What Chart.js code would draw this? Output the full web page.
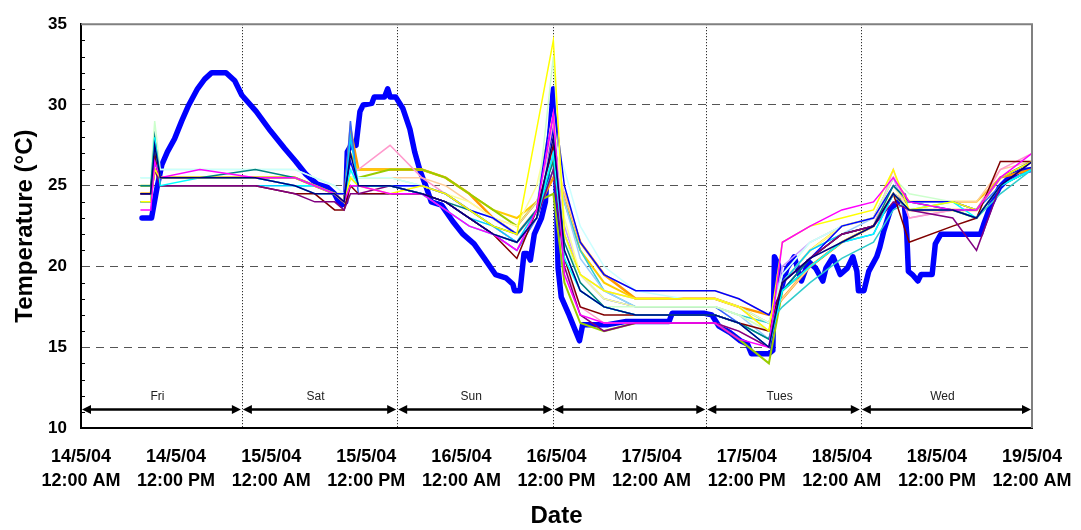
<!DOCTYPE html>
<html>
<head>
<meta charset="utf-8">
<script src="https://cdn.jsdelivr.net/npm/chart.js@4.4.1/dist/chart.umd.min.js"></script>
<style>
  body { margin: 0; background: #fff; }
</style>
</head>
<body>
<canvas id="myChart" width="1081" height="530"></canvas>
<script>

// x axis runs in hours from 14/5/04 12:00 AM
const xTickHours = [0, 12, 24, 36, 48, 60, 72, 84, 96, 108, 120];
const xTickDates = ['14/5/04', '14/5/04', '15/5/04', '15/5/04', '16/5/04', '16/5/04',
                    '17/5/04', '17/5/04', '18/5/04', '18/5/04', '19/5/04'];
const xTickTimes = ['12:00 AM', '12:00 PM', '12:00 AM', '12:00 PM', '12:00 AM', '12:00 PM',
                    '12:00 AM', '12:00 PM', '12:00 AM', '12:00 PM', '12:00 AM'];

const dayNames = ['Fri', 'Sat', 'Sun', 'Mon', 'Tues', 'Wed'];
const dayEdges = [0, 20.3, 39.9, 59.6, 78.9, 98.4, 120];

// the heavy blue trace
const thickHours = [7.7, 8.9, 9.6, 10.2, 10.9, 11.8, 12.7, 13.6, 14.7, 15.6, 16.5, 18.3, 19.4, 20.3,
  22.1, 23.9, 25.7, 27.1, 28.4, 29.8, 31.1, 32.0, 32.5, 32.9, 33.4, 33.6, 34.3, 34.7, 35.2, 35.6,
  36.7, 37.0, 38.3, 38.7, 39.0, 39.7, 40.6, 41.5, 42.1, 42.8, 43.5, 44.2, 45.5, 46.9, 48.2, 49.6,
  50.9, 52.3, 53.6, 54.5, 54.7, 55.4, 55.9, 56.3, 56.7, 57.2, 58.1, 58.6, 59.0, 59.6, 60.0, 60.2,
  60.6, 61.5, 62.4, 62.9, 63.3, 66.5, 68.8, 74.2, 74.6, 78.7, 79.6, 80.5, 81.9, 83.2, 84.1, 84.6,
  86.8, 87.3, 87.5, 88.0, 88.4, 89.1, 90.0, 90.9, 91.8, 92.7, 93.6, 94.0, 94.9, 95.8, 96.7, 97.4,
  97.9, 98.1, 98.8, 99.4, 100.4, 100.8, 101.3, 102.2, 103.1, 103.8, 104.2, 104.4, 104.9, 105.6,
  106.0, 107.4, 107.8, 108.5, 113.5, 113.9, 114.8, 115.9, 117.1, 118.4, 120.0];
const thickTemps = [23.0, 23.0, 24.9, 26.3, 27.1, 27.9, 29.0, 30.0, 31.0, 31.6, 32.0, 32.0, 31.5, 30.6,
  29.6, 28.4, 27.3, 26.5, 25.7, 25.1, 24.9, 24.5, 24.0, 23.8, 24.0, 27.1, 27.7, 27.5, 29.6, 30.0,
  30.1, 30.5, 30.5, 31.0, 30.5, 30.5, 29.8, 28.5, 27.1, 25.9, 25.0, 24.0, 23.8, 22.8, 22.0, 21.4,
  20.5, 19.5, 19.3, 18.9, 18.5, 18.5, 20.8, 20.8, 20.4, 22.0, 23.0, 24.0, 27.1, 31.0, 24.0, 19.9,
  18.1, 17.1, 16.0, 15.4, 16.4, 16.4, 16.6, 16.6, 17.1, 17.1, 17.0, 16.3, 15.9, 15.4, 15.2, 14.6,
  14.6, 14.8, 20.6, 20.1, 18.7, 19.9, 20.6, 19.1, 20.3, 19.9, 19.1, 19.9, 20.6, 19.5, 19.9, 20.6,
  19.7, 18.5, 18.5, 19.7, 20.6, 21.2, 22.2, 23.6, 24.0, 24.4, 22.0, 19.7, 19.5, 19.1,
  19.5, 19.5, 21.4, 22.0, 22.0, 22.6, 23.8, 24.9, 25.5, 25.9, 26.0];

// shared reading times for the thin traces
const thinHours = [7.5, 8.8, 9.3, 10.0, 15, 22, 27, 29.5, 32, 33.2, 34.0, 35.0, 39, 43, 46, 49, 52, 55,
  57.5, 59.6, 61, 63, 66, 70, 76, 80, 83, 86.8, 88.5, 92, 96, 100, 102.5, 104.5, 110, 113, 116, 120];

const navyTemps = [24.5, 24.5, 27.5, 25.5, 25.5, 25.5, 25.0, 24.5, 24.5, 24.0, 27.0, 25.0, 25.0, 24.5, 24.0, 23.0, 22.0, 21.5, 23.0, 28.0, 21.0, 18.5, 17.5, 17.0, 17.0, 17.0, 16.5, 15.0, 19.0, 20.5, 21.5, 22.5, 24.5, 23.5, 23.5, 23.0, 25.0, 26.5];
const magentaTemps = [23.5, 23.5, 26.5, 25.5, 26.0, 25.5, 25.5, 25.0, 24.5, 24.0, 25.0, 25.0, 24.5, 24.5, 23.5, 22.5, 22.0, 21.0, 23.5, 29.5, 19.5, 17.0, 16.5, 16.5, 16.5, 16.5, 15.5, 15.0, 21.5, 22.5, 23.5, 24.0, 25.5, 24.0, 23.5, 23.5, 25.5, 27.0];
const yellowTemps = [24.0, 24.0, 26.0, 25.5, 25.5, 25.5, 25.5, 25.0, 24.5, 24.0, 25.5, 25.0, 24.5, 25.0, 24.5, 23.5, 22.5, 22.0, 28.5, 34.0, 22.0, 19.5, 18.5, 18.0, 18.0, 18.0, 17.5, 16.0, 21.5, 22.5, 23.0, 23.5, 26.0, 23.5, 24.0, 23.5, 25.5, 26.5];
const cyanTemps = [24.0, 24.0, 28.0, 25.0, 25.5, 25.5, 25.0, 25.0, 24.5, 24.0, 26.0, 25.0, 25.0, 24.5, 23.5, 22.5, 22.0, 21.5, 23.0, 27.0, 20.5, 18.5, 17.5, 17.0, 17.0, 17.0, 16.5, 15.0, 18.5, 20.0, 21.5, 22.0, 24.5, 23.5, 24.0, 23.0, 25.0, 26.0];
const purpleTemps = [24.0, 24.0, 26.0, 25.0, 25.0, 25.0, 24.5, 24.0, 24.0, 23.5, 24.5, 24.5, 25.0, 24.5, 24.0, 23.0, 22.0, 21.5, 23.0, 26.0, 20.0, 17.0, 16.0, 16.5, 16.5, 16.5, 16.0, 15.0, 19.0, 20.5, 22.0, 22.5, 24.0, 23.5, 23.0, 21.0, 25.0, 26.5];
const maroonTemps = [24.5, 24.5, 27.0, 25.0, 25.0, 25.0, 24.5, 24.5, 23.5, 23.5, 25.0, 24.5, 24.5, 24.5, 24.0, 23.0, 22.0, 20.5, 23.5, 27.5, 20.5, 17.5, 17.0, 17.0, 17.0, 17.0, 16.5, 16.0, 19.0, 20.5, 22.0, 22.5, 24.5, 21.5, 22.5, 23.0, 26.5, 26.5];
const tealTemps = [25.0, 25.0, 28.0, 25.5, 25.5, 26.0, 25.5, 25.0, 24.5, 24.0, 25.0, 25.0, 25.0, 24.5, 24.0, 23.5, 22.5, 22.0, 23.5, 26.5, 21.5, 19.0, 17.5, 17.0, 17.0, 17.0, 16.5, 15.5, 18.5, 20.5, 22.0, 22.5, 25.0, 24.0, 23.5, 23.5, 25.5, 26.5];
const blueTemps = [24.5, 24.5, 26.5, 25.5, 25.5, 25.5, 25.5, 25.0, 24.5, 24.5, 26.5, 25.0, 25.0, 25.0, 24.5, 23.5, 23.0, 22.0, 23.5, 30.5, 25.0, 21.5, 19.5, 18.5, 18.5, 18.5, 18.0, 17.0, 18.5, 20.5, 22.5, 23.0, 25.0, 24.0, 24.0, 23.5, 25.5, 26.5];
const skyTemps = [24.0, 24.0, 27.5, 25.0, 25.0, 25.0, 25.0, 24.5, 24.5, 24.0, 28.0, 25.0, 25.0, 24.5, 24.0, 23.0, 22.5, 21.5, 23.5, 26.0, 21.0, 18.5, 17.5, 17.0, 17.0, 17.0, 16.5, 15.5, 19.0, 21.0, 22.0, 22.5, 24.5, 23.5, 23.5, 23.0, 25.0, 26.0];
const paleCyanTemps = [25.5, 25.5, 27.0, 26.0, 26.0, 26.0, 26.0, 25.5, 25.0, 24.5, 26.0, 25.5, 25.5, 25.0, 24.5, 23.5, 23.0, 22.0, 23.5, 28.0, 26.0, 22.5, 20.0, 18.5, 18.0, 18.0, 17.5, 16.5, 19.5, 21.5, 22.5, 23.0, 25.0, 24.0, 24.0, 23.5, 25.5, 26.5];
const paleGreenTemps = [25.5, 25.5, 29.0, 26.0, 26.0, 26.0, 26.0, 25.5, 25.0, 24.5, 25.5, 25.5, 25.5, 25.0, 24.5, 23.5, 23.0, 22.0, 23.5, 33.0, 22.0, 19.0, 17.5, 17.5, 17.5, 17.5, 17.0, 16.0, 19.5, 21.5, 22.5, 23.0, 25.5, 24.5, 24.0, 23.5, 25.5, 26.5];
const paleYellowTemps = [24.5, 24.5, 26.0, 25.5, 25.5, 25.5, 25.5, 25.0, 24.5, 24.0, 25.5, 25.5, 25.5, 25.0, 24.5, 24.0, 23.0, 22.5, 25.0, 29.5, 23.0, 19.5, 18.0, 17.5, 17.5, 17.5, 17.0, 16.0, 19.0, 21.0, 22.5, 23.0, 25.0, 23.5, 23.5, 23.5, 25.5, 26.5];
const paleBlueTemps = [24.5, 24.5, 27.0, 25.5, 25.5, 25.5, 25.5, 25.0, 24.5, 24.0, 25.5, 25.0, 25.0, 25.0, 24.5, 23.5, 22.5, 22.0, 23.5, 27.0, 24.0, 20.5, 18.5, 17.5, 17.5, 17.5, 17.0, 15.5, 19.0, 21.0, 22.0, 23.0, 25.0, 24.0, 24.0, 23.5, 25.5, 26.5];
const roseTemps = [24.0, 24.0, 26.5, 25.5, 25.5, 25.5, 25.5, 25.0, 24.5, 24.0, 26.0, 26.0, 27.5, 25.5, 24.5, 23.5, 22.5, 21.5, 23.0, 29.0, 20.0, 17.5, 16.5, 16.5, 16.5, 16.5, 16.0, 15.0, 19.0, 20.5, 22.0, 22.5, 26.0, 23.0, 23.5, 23.5, 26.0, 27.0];
const lavenderTemps = [24.5, 24.5, 26.0, 25.5, 25.5, 25.5, 25.5, 25.0, 24.5, 24.5, 25.5, 25.0, 25.0, 25.0, 24.5, 23.5, 22.5, 21.5, 23.0, 28.0, 22.5, 19.5, 18.5, 18.0, 18.0, 18.0, 17.5, 16.0, 20.0, 21.5, 22.5, 23.0, 25.5, 23.0, 23.5, 23.5, 25.5, 26.5];
const tanTemps = [24.5, 24.5, 26.5, 25.5, 25.5, 25.5, 25.5, 25.0, 24.5, 24.5, 26.0, 25.5, 25.5, 25.5, 25.0, 24.0, 23.0, 22.5, 24.0, 27.5, 24.5, 21.5, 19.5, 18.5, 18.5, 18.5, 18.0, 17.0, 18.0, 20.0, 21.5, 22.5, 24.5, 24.0, 24.0, 24.0, 26.0, 26.5];
const royalTemps = [24.5, 24.5, 27.0, 25.5, 25.5, 25.5, 25.0, 25.0, 24.5, 24.0, 29.0, 24.5, 24.5, 24.5, 24.0, 23.0, 22.0, 21.0, 23.0, 27.0, 22.0, 19.5, 18.0, 17.5, 17.5, 17.5, 16.5, 15.0, 18.5, 20.0, 21.5, 22.0, 24.5, 24.0, 24.0, 23.5, 25.0, 26.0];
const aquaTemps = [24.5, 24.5, 26.5, 25.5, 25.5, 25.5, 25.5, 25.0, 24.5, 24.0, 25.0, 25.0, 25.0, 25.0, 24.5, 23.5, 22.5, 21.5, 23.0, 26.0, 24.0, 21.0, 18.5, 17.5, 17.5, 17.5, 17.0, 16.5, 17.5, 19.0, 20.5, 21.5, 23.5, 24.0, 23.5, 23.0, 24.5, 26.0];
const limeTemps = [25.0, 25.0, 26.5, 25.5, 25.5, 25.5, 25.5, 25.0, 24.5, 24.5, 25.5, 25.5, 26.0, 26.0, 25.5, 24.5, 23.5, 22.5, 24.0, 24.5, 19.0, 16.5, 16.0, 16.5, 16.5, 16.5, 15.5, 14.0, 18.5, 20.0, 21.5, 22.5, 24.5, 23.5, 23.5, 23.0, 25.0, 26.0];
const goldTemps = [24.5, 24.5, 26.0, 25.5, 25.5, 25.5, 25.5, 25.0, 24.5, 24.0, 27.0, 26.0, 26.0, 26.0, 25.5, 24.5, 23.5, 23.0, 24.0, 26.5, 24.0, 21.0, 19.0, 18.0, 18.0, 18.0, 17.5, 16.5, 19.0, 21.0, 22.5, 23.0, 25.5, 24.0, 24.0, 24.0, 25.5, 26.5];
const orangeTemps = [24.5, 24.5, 26.0, 25.5, 25.5, 25.5, 25.5, 25.0, 24.5, 24.0, 28.5, 26.0, 26.0, 26.0, 25.5, 24.5, 23.0, 22.0, 23.5, 25.5, 24.5, 21.5, 19.5, 18.0, 18.0, 18.0, 17.5, 17.0, 18.0, 20.0, 21.5, 22.5, 24.5, 23.5, 23.5, 23.5, 25.5, 26.0];

const thinSeries = [
  [navyTemps, '#000080', 1.5],
  [magentaTemps, '#FF00FF', 1.5],
  [yellowTemps, '#FFFF00', 1.5],
  [cyanTemps, '#00FFFF', 1.5],
  [purpleTemps, '#800080', 1.5],
  [maroonTemps, '#800000', 1.5],
  [tealTemps, '#008080', 1.5],
  [blueTemps, '#0000FF', 1.5],
  [skyTemps, '#00CCFF', 1.5],
  [paleCyanTemps, '#CCFFFF', 1.5],
  [paleGreenTemps, '#CCFFCC', 1.5],
  [paleYellowTemps, '#FFFF99', 1.5],
  [paleBlueTemps, '#99CCFF', 1.5],
  [roseTemps, '#FF99CC', 1.5],
  [lavenderTemps, '#CC99FF', 1.5],
  [tanTemps, '#FFCC99', 1.5],
  [royalTemps, '#3366FF', 1.5],
  [aquaTemps, '#33CCCC', 1.5],
  [limeTemps, '#99CC00', 2],
  [goldTemps, '#FFCC00', 2],
  [orangeTemps, '#FF9900', 2.5]
];

const FONT = 'Arial, "Liberation Sans", Helvetica, sans-serif';

const datasets = thinSeries.map(([temps, color, width]) => ({
  data: temps.map((t, i) => ({ x: thinHours[i], y: t })),
  borderColor: color,
  borderWidth: width
}));
datasets.push({
  data: thickTemps.map((t, i) => ({ x: thickHours[i], y: t })),
  borderColor: '#0000FF',
  borderWidth: 5.5,
  borderJoinStyle: 'round',
  borderCapStyle: 'round'
});

// dotted day dividers, day arrows, minor y ticks and the grey frame
const chartDecor = {
  id: 'chartDecor',
  beforeDatasetsDraw(chart) {
    const { ctx, chartArea: { top, bottom }, scales: { x, y } } = chart;
    ctx.save();
    ctx.strokeStyle = '#000';
    ctx.lineWidth = 1;
    ctx.setLineDash([1, 2]);
    for (let i = 1; i < dayEdges.length - 1; i++) {
      const px = Math.round(x.getPixelForValue(dayEdges[i])) + 0.5;
      ctx.beginPath();
      ctx.moveTo(px, top);
      ctx.lineTo(px, bottom);
      ctx.stroke();
    }
    ctx.setLineDash([]);

    const ay = y.getPixelForValue(11.15);
    const ly = y.getPixelForValue(11.95);
    ctx.lineWidth = 2.5;
    ctx.fillStyle = '#000';
    for (let i = 0; i < dayNames.length; i++) {
      const x0 = x.getPixelForValue(dayEdges[i]) + 1;
      const x1 = x.getPixelForValue(dayEdges[i + 1]) - 1;
      ctx.beginPath();
      ctx.moveTo(x0 + 5, ay);
      ctx.lineTo(x1 - 5, ay);
      ctx.stroke();
      ctx.beginPath();
      ctx.moveTo(x0, ay);
      ctx.lineTo(x0 + 9, ay - 4.5);
      ctx.lineTo(x0 + 9, ay + 4.5);
      ctx.closePath();
      ctx.fill();
      ctx.beginPath();
      ctx.moveTo(x1, ay);
      ctx.lineTo(x1 - 9, ay - 4.5);
      ctx.lineTo(x1 - 9, ay + 4.5);
      ctx.closePath();
      ctx.fill();

      ctx.font = '12px ' + FONT;
      ctx.fillStyle = '#222';
      ctx.textAlign = 'center';
      ctx.textBaseline = 'middle';
      ctx.fillText(dayNames[i], (x0 + x1) / 2 - 4, ly);
      ctx.fillStyle = '#000';
    }
    ctx.restore();
  },
  afterDraw(chart) {
    const { ctx, chartArea: { left, right, top, bottom }, scales: { y } } = chart;
    ctx.save();
    ctx.strokeStyle = '#000';
    ctx.lineWidth = 1;
    for (let v = 11; v < 35; v++) {
      if (v % 5 === 0) continue;
      const py = Math.round(y.getPixelForValue(v)) + 0.5;
      ctx.beginPath();
      ctx.moveTo(left, py);
      ctx.lineTo(left + 4, py);
      ctx.stroke();
    }
    ctx.strokeStyle = '#808080';
    ctx.lineWidth = 2;
    ctx.beginPath();
    ctx.moveTo(left, top);
    ctx.lineTo(right, top);
    ctx.lineTo(right, bottom);
    ctx.stroke();
    ctx.restore();
  }
};

new Chart(document.getElementById('myChart'), {
  type: 'line',
  data: { datasets },
  options: {
    responsive: false,
    animation: false,
    events: [],
    layout: { padding: { left: 0, right: 49, top: 22, bottom: 0 } },
    elements: {
      point: { radius: 0 },
      line: { tension: 0, fill: false }
    },
    plugins: {
      legend: { display: false },
      tooltip: { enabled: false }
    },
    scales: {
      x: {
        type: 'linear',
        min: 0,
        max: 120,
        afterBuildTicks: (scale) => { scale.ticks = xTickHours.map(v => ({ value: v })); },
        afterFit: (scale) => {
          scale.height = 102;
          scale.paddingLeft = 0;
          scale.paddingRight = 0;
        },
        grid: { display: false, drawTicks: false },
        border: { display: true, color: '#000', width: 2 },
        ticks: {
          autoSkip: false,
          maxRotation: 0,
          padding: 17,
          color: '#000',
          font: { family: FONT, size: 18, weight: 'bold', lineHeight: 1.333 },
          callback: (value, index) => [xTickDates[index], xTickTimes[index]]
        },
        title: {
          display: true,
          text: 'Date',
          color: '#000',
          font: { family: FONT, size: 24, weight: 'bold', lineHeight: 1.1 },
          padding: { top: 0, bottom: 0 }
        }
      },
      y: {
        min: 10,
        max: 35,
        afterFit: (scale) => { scale.width = 81; },
        grid: {
          drawTicks: false,
          lineWidth: 1,
          color: (c) => (c.tick && c.tick.value > 10 && c.tick.value < 35) ? '#555' : 'rgba(0,0,0,0)'
        },
        border: { display: true, color: '#000', width: 2, dash: [8, 6] },
        ticks: {
          stepSize: 5,
          padding: 14,
          color: '#000',
          font: { family: FONT, size: 17, weight: 'bold' }
        },
        title: {
          display: true,
          text: 'Temperature (°C)',
          color: '#000',
          font: { family: FONT, size: 24, weight: 'bold', lineHeight: 1.1 },
          padding: { top: 12, bottom: 0 }
        }
      }
    }
  },
  plugins: [chartDecor]
});
</script>
</body>
</html>
